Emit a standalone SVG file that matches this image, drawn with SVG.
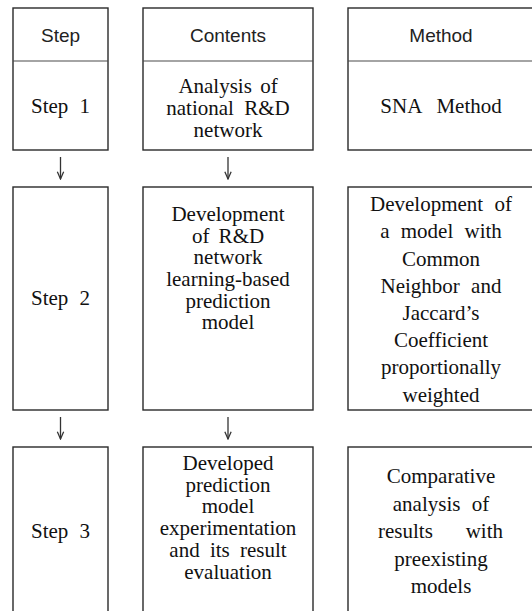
<svg xmlns="http://www.w3.org/2000/svg" width="532" height="611" viewBox="0 0 532 611">
  <style>
    .box { fill: #ffffff; stroke: #2a2a2a; stroke-width: 1.4; }
    .rule { stroke: #4a4a4a; stroke-width: 1.2; }
    .head { font-family: 'Liberation Sans', Arial, sans-serif; font-size: 19px; fill: #222; text-anchor: middle; }
    .serif { font-family: 'Liberation Serif', 'Times New Roman', serif; font-size: 21px; fill: #111; text-anchor: middle; }
    .wide { word-spacing: 6px; }
    .link { stroke: #333; stroke-width: 1.3; fill: none; }
  </style>
  <defs>
    <marker id="head" viewBox="0 0 10 10" refX="9" refY="5" markerWidth="9" markerHeight="9" markerUnits="userSpaceOnUse" orient="auto">
      <path d="M1,1.5 L9,5 L1,8.5" fill="none" stroke="#333" stroke-width="1.4"/>
    </marker>
  </defs>
  <rect width="532" height="611" fill="#ffffff"/>

  <!-- Step column -->
  <g id="step-1">
    <rect class="box" x="13" y="8" width="95" height="142"/>
    <line class="rule" x1="13" y1="61" x2="108" y2="61"/>
    <text class="head" x="60.5" y="42">Step</text>
    <text class="serif wide" x="60.5" y="113">Step 1</text>
  </g>
  <g id="step-2">
    <rect class="box" x="13" y="187" width="95" height="223"/>
    <text class="serif wide" x="60.5" y="305">Step 2</text>
  </g>
  <g id="step-3">
    <rect class="box" x="13" y="447" width="95" height="180"/>
    <text class="serif wide" x="60.5" y="538">Step 3</text>
  </g>

  <!-- Contents column -->
  <g id="contents-1">
    <rect class="box" x="143" y="8" width="170" height="142"/>
    <line class="rule" x1="143" y1="61" x2="313" y2="61"/>
    <text class="head" x="228" y="42">Contents</text>
    <text class="serif" x="228" y="92.7" word-spacing="3">Analysis of</text>
    <text class="serif" x="228" y="114.5" word-spacing="5">national R&amp;D</text>
    <text class="serif" x="228" y="136.5">network</text>
  </g>
  <g id="contents-2">
    <rect class="box" x="143" y="187" width="170" height="223"/>
    <text class="serif" x="228" y="221">Development</text>
    <text class="serif" x="228" y="242.7" word-spacing="4">of R&amp;D</text>
    <text class="serif" x="228" y="264.4">network</text>
    <text class="serif" x="228" y="286">learning-based</text>
    <text class="serif" x="228" y="307.7">prediction</text>
    <text class="serif" x="228" y="329.4">model</text>
  </g>
  <g id="contents-3">
    <rect class="box" x="143" y="447" width="170" height="180"/>
    <text class="serif" x="228" y="470">Developed</text>
    <text class="serif" x="228" y="491.7">prediction</text>
    <text class="serif" x="228" y="513.4">model</text>
    <text class="serif" x="228" y="535">experimentation</text>
    <text class="serif" x="228" y="556.8" word-spacing="5">and its result</text>
    <text class="serif" x="228" y="578.5">evaluation</text>
  </g>

  <!-- Method column -->
  <g id="method-1">
    <rect class="box" x="348" y="8" width="190" height="142"/>
    <line class="rule" x1="348" y1="61" x2="538" y2="61"/>
    <text class="head" x="441" y="42">Method</text>
    <text class="serif" x="441" y="113" word-spacing="10">SNA Method</text>
  </g>
  <g id="method-2">
    <rect class="box" x="348" y="187" width="190" height="223"/>
    <text class="serif" x="441" y="211" word-spacing="6">Development of</text>
    <text class="serif" x="441" y="238.3" word-spacing="6">a model with</text>
    <text class="serif" x="441" y="265.7">Common</text>
    <text class="serif" x="441" y="292.7" word-spacing="6">Neighbor and</text>
    <text class="serif" x="441" y="320">Jaccard’s</text>
    <text class="serif" x="441" y="346.7">Coefficient</text>
    <text class="serif" x="441" y="374.3">proportionally</text>
    <text class="serif" x="441" y="401.7">weighted</text>
  </g>
  <g id="method-3">
    <rect class="box" x="348" y="447" width="190" height="180"/>
    <text class="serif" x="441" y="483.3">Comparative</text>
    <text class="serif" x="441" y="510.7" word-spacing="6">analysis of</text>
    <text class="serif" x="378" y="538.3" style="text-anchor:start">results</text>
    <text class="serif" x="503" y="538.3" style="text-anchor:end">with</text>
    <text class="serif" x="441" y="565.7">preexisting</text>
    <text class="serif" x="441" y="593.3">models</text>
  </g>

  <!-- Step-to-step arrows -->
  <g id="connectors">
    <line class="link" x1="60.5" y1="157" x2="60.5" y2="179" marker-end="url(#head)"/>
    <line class="link" x1="228" y1="157" x2="228" y2="179" marker-end="url(#head)"/>
    <line class="link" x1="60.5" y1="417" x2="60.5" y2="439" marker-end="url(#head)"/>
    <line class="link" x1="228" y1="417" x2="228" y2="439" marker-end="url(#head)"/>
  </g>
</svg>
